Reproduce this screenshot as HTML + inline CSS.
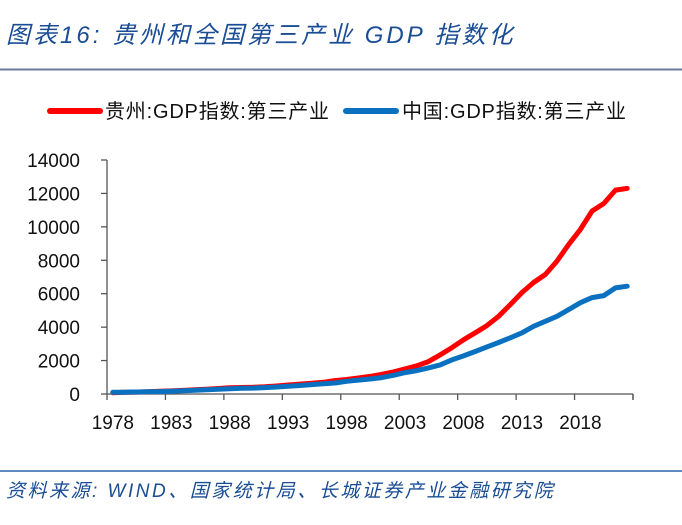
<!DOCTYPE html>
<html><head><meta charset="utf-8"><style>
body{margin:0;background:#fff;width:682px;height:520px;overflow:hidden;font-family:"Liberation Sans","Noto Sans CJK SC",sans-serif}
</style></head><body>
<svg width="682" height="520" xmlns="http://www.w3.org/2000/svg">
<text x="6" y="43" font-size="24" font-style="italic" letter-spacing="3" fill="#1a4d94" font-family="Liberation Sans,Noto Sans CJK SC,sans-serif">图表16:  贵州和全国第三产业 GDP 指数化</text>
<line x1="0" y1="69.5" x2="682" y2="69.5" stroke="#6b7d9a" stroke-width="2"/>
<g>
<line x1="50" y1="111" x2="100" y2="111" stroke="#f00" stroke-width="6" stroke-linecap="round"/>
<text x="105" y="118" font-size="20" letter-spacing="0.8" fill="#111">贵州:GDP指数:第三产业</text>
<line x1="346" y1="111" x2="396" y2="111" stroke="#0a70c0" stroke-width="6" stroke-linecap="round"/>
<text x="402" y="118" font-size="20" letter-spacing="0.8" fill="#111">中国:GDP指数:第三产业</text>
</g>
<g id="axes"></g>
<g id="series"></g>
<line x1="0" y1="471" x2="682" y2="471" stroke="#2a65b0" stroke-width="1.5"/>
<text x="6" y="497" font-size="19" font-style="italic" letter-spacing="2.5" fill="#1a4d94">资料来源:  WIND、国家统计局、长城证券产业金融研究院</text>
</svg>
<script>
const years=[];for(let y=1978;y<=2022;y++)years.push(y);
const yTicks=[0,2000,4000,6000,8000,10000,12000,14000];
const xLabels=[1978,1983,1988,1993,1998,2003,2008,2013,2018];
const guizhou=[80,100,115,135,160,185,215,250,290,330,370,390,400,430,480,540,590,640,700,800,870,960,1050,1180,1320,1500,1690,1940,2340,2770,3240,3660,4090,4650,5350,6070,6670,7150,7950,8950,9850,10950,11400,12200,12300];
const china=[100,108,118,130,145,165,190,220,250,280,320,340,350,380,420,460,510,560,610,660,760,830,900,980,1120,1280,1400,1560,1740,2040,2280,2540,2820,3080,3360,3660,4050,4350,4650,5050,5460,5770,5890,6350,6450];
const X0=107,X1=633,Y0=394,Y1=160,NS="http://www.w3.org/2000/svg";
const bw=(X1-X0)/years.length;
const xs=i=>X0+bw*(i+0.5);
const ys=v=>Y0-(v/14000)*(Y0-Y1);
const ax=document.getElementById('axes'),se=document.getElementById('series');
function mk(t,a,p){const e=document.createElementNS(NS,t);for(const k in a)e.setAttribute(k,a[k]);p.appendChild(e);return e;}
let e=mk('line',{x1:X0,y1:Y1,x2:X0,y2:Y0,stroke:'#555','stroke-width':1.3},ax);


e=mk('line',{x1:X0,y1:Y0,x2:X1,y2:Y0,stroke:'#555','stroke-width':1.3},ax);


yTicks.forEach(v=>{const y=ys(v);
mk('line',{x1:X0-6,y1:y,x2:X0,y2:y,stroke:'#555','stroke-width':1.3},ax);
const t=mk('text',{x:80,y:y+7,'font-size':19,'text-anchor':'end',fill:'#111'},ax);t.textContent=v;

});
for(let i=0;i<=years.length;i+=5){const x=X0+bw*i;mk('line',{x1:x,y1:Y0,x2:x,y2:Y0+6,stroke:'#555','stroke-width':1.3},ax);}
mk('line',{x1:X1,y1:Y0,x2:X1,y2:Y0+6,stroke:'#555','stroke-width':1.3},ax);
xLabels.forEach(yr=>{const i=years.indexOf(yr);const t=mk('text',{x:xs(i),y:Y0+35,'font-size':19,'text-anchor':'middle',fill:'#111'},ax);t.textContent=yr;

});
function line(d,c,n){const p=d.map((v,i)=>xs(i).toFixed(1)+','+ys(v).toFixed(1)).join(' ');
const l=mk('polyline',{points:p,fill:'none',stroke:c,'stroke-width':5,'stroke-linejoin':'round','stroke-linecap':'round'},se);

}
line(guizhou,'#f00','guizhou-line');
line(china,'#0a70c0','china-line');
</script>
</body></html>
